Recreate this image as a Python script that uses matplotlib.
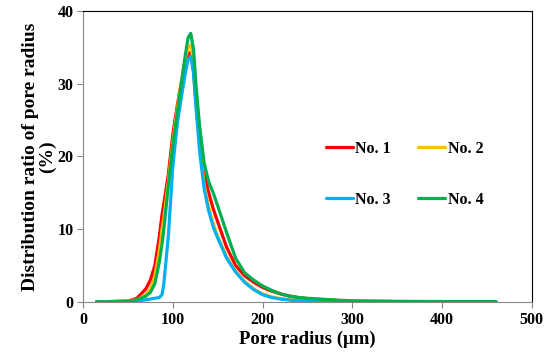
import matplotlib
matplotlib.use("Agg")
import matplotlib.pyplot as plt

# pore radius (um) sample points, shared by all four series
radius = [15, 30, 40, 50, 60, 70, 75, 80, 85, 88, 90, 95, 100, 105, 110, 114,
          117, 120, 123, 126, 130, 135, 140, 145, 150, 160, 170, 180, 190,
          200, 210, 220, 230, 240, 250, 275, 300, 350, 400, 460]

no1 = [0, 0.05, 0.1, 0.1, 0.5, 1.8, 3.0, 5.0, 9.0, 12.0, 13.5, 17.5, 23.0,
       27.0, 30.5, 32.8, 34.0, 34.3, 32.0, 27.0, 21.5, 17.5, 15.0, 12.8, 11.0,
       7.5, 5.0, 3.6, 2.7, 2.0, 1.5, 1.1, 0.8, 0.6, 0.45, 0.25, 0.1, 0.05,
       0.02, 0]
no2 = [0, 0, 0.05, 0.1, 0.3, 1.0, 1.8, 3.5, 7.0, 10.0, 11.5, 16.5, 22.0,
       26.5, 30.5, 33.5, 35.0, 35.3, 33.0, 28.0, 21.5, 16.0, 13.0, 10.8, 9.0,
       6.2, 4.2, 2.8, 1.8, 1.1, 0.7, 0.45, 0.3, 0.2, 0.12, 0.06, 0.03, 0.01,
       0, 0]
no3 = [0, 0, 0, 0, 0.1, 0.3, 0.4, 0.5, 0.6, 1.0, 2.5, 9.0, 18.6, 24.5, 28.5,
       31.5, 33.3, 33.7, 31.5, 26.5, 20.5, 15.5, 12.5, 10.3, 8.8, 6.0, 4.1,
       2.7, 1.7, 1.0, 0.6, 0.4, 0.25, 0.15, 0.1, 0.05, 0.02, 0, 0, 0]
no4 = [0, 0, 0.05, 0.1, 0.3, 0.8, 1.3, 2.5, 5.5, 8.0, 10.0, 16.0, 21.5, 26.0,
       30.5, 34.0, 36.3, 36.9, 34.8, 29.5, 24.0, 19.0, 16.5, 15.0, 13.2, 9.5,
       6.0, 4.0, 3.0, 2.2, 1.6, 1.1, 0.8, 0.6, 0.5, 0.3, 0.15, 0.08, 0.05,
       0.05]

series = [("No. 1", no1, "#FF0000"), ("No. 2", no2, "#FFC000"),
          ("No. 3", no3, "#00B0F0"), ("No. 4", no4, "#00B050")]

plt.rcParams["font.family"] = ["Liberation Serif", "DejaVu Serif"]
plt.rcParams["font.weight"] = "bold"

fig = plt.figure(figsize=(5.5, 3.62), dpi=100)
ax = fig.add_axes([0.151, 0.166, 0.816, 0.804])

lines = {}
for label, ys, c in series:
    lines[label], = ax.plot(radius, ys, color=c, lw=2.3, label=label,
                            solid_joinstyle="round", solid_capstyle="round")

ax.set_xlim(0, 500)
ax.set_ylim(0, 40)
ax.set_xticks(range(0, 501, 100))
ax.set_yticks(range(0, 41, 10))
ax.tick_params(direction="out", length=4, color="#888888", labelsize=11.5,
               pad=3)
for lab in ax.get_xticklabels() + ax.get_yticklabels():
    lab.set_fontweight("bold")
for s in ("left", "bottom"):
    ax.spines[s].set_color("#888888")
for s in ("top", "right"):
    ax.spines[s].set_color("black")

ax.set_xlabel("Pore radius (μm)", fontsize=13.5, fontweight="bold", labelpad=2)
ax.set_ylabel("Distribution ratio of pore radius\n(%)", fontsize=14,
              fontweight="bold", labelpad=1, linespacing=1.0)

# legend fills column-wise: order so rows read No.1 No.2 / No.3 No.4
order = ["No. 1", "No. 3", "No. 2", "No. 4"]
ax.legend([lines[k] for k in order], order, ncol=2, loc="center",
          bbox_to_anchor=(0.716, 0.438), frameon=False, handlelength=1.7,
          handletextpad=0.15, columnspacing=1.7, labelspacing=2.2,
          prop={"weight": "bold", "size": 11.5})

fig.savefig("out.png", dpi=100, facecolor="white")
